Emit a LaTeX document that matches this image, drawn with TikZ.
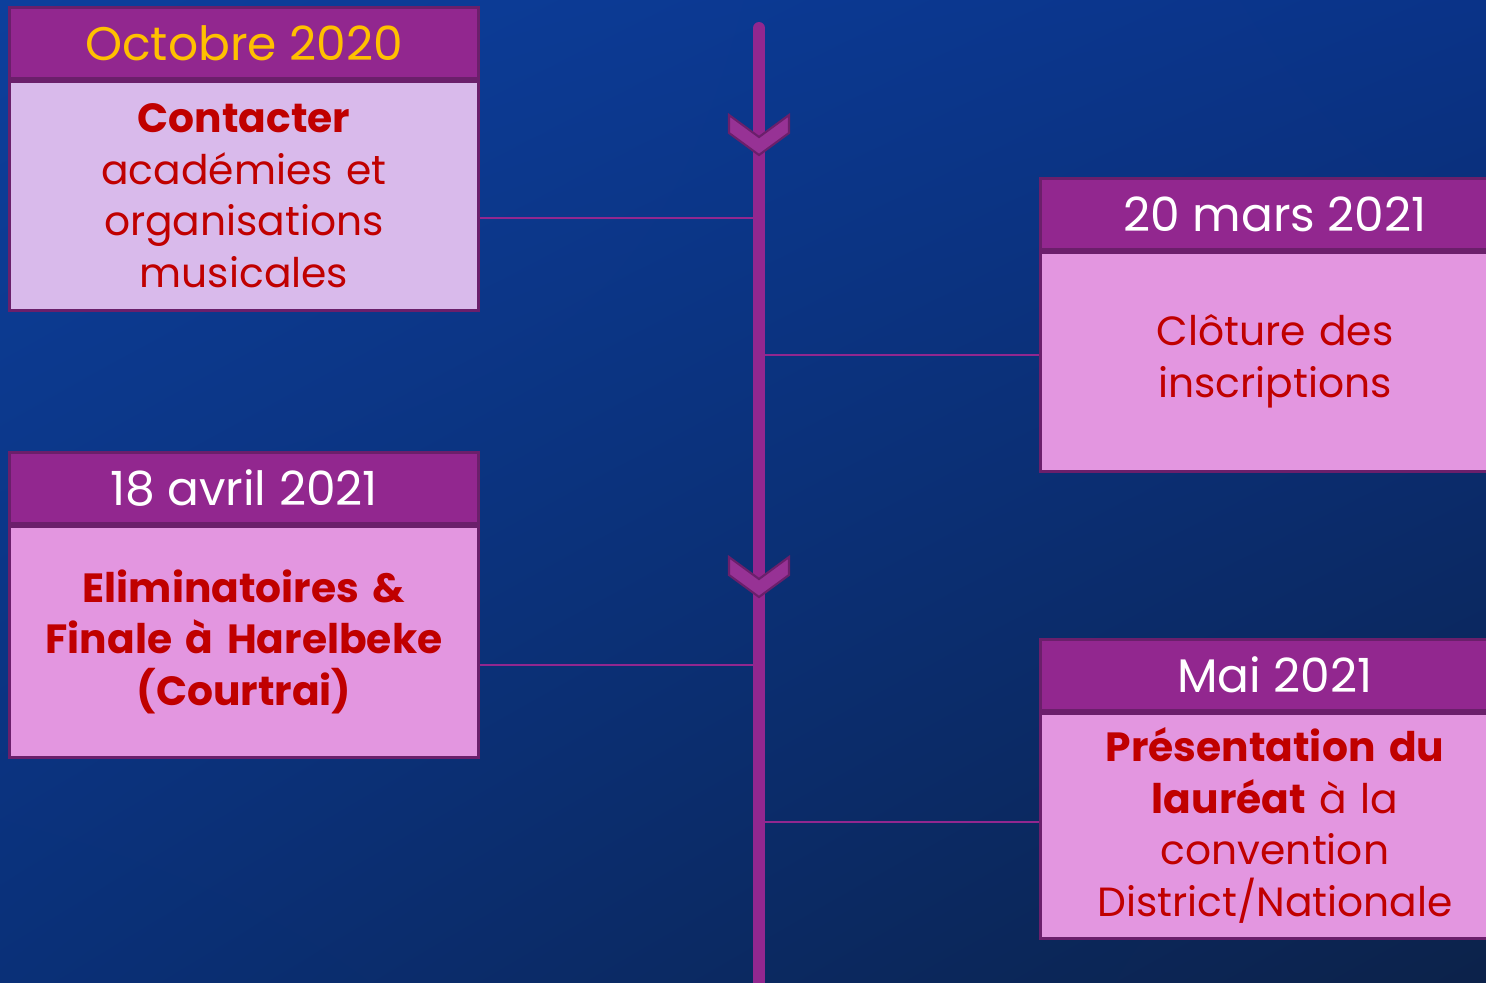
\documentclass[tikz,border=0pt]{standalone}
\usepackage{fontspec}
\setmainfont{Poppins}
\usetikzlibrary{positioning,calc,shadings}
\definecolor{bgtl}{HTML}{0D3F9C}
\definecolor{bgtr}{HTML}{0A3388}
\definecolor{bgbl}{HTML}{0A3078}
\definecolor{bgbr}{HTML}{0C224A}
\definecolor{plum}{HTML}{92278F}
\definecolor{plumdark}{HTML}{6B1F6B}
\definecolor{lilac}{HTML}{D9BAEB}
\definecolor{pinkbox}{HTML}{E396E0}
\definecolor{gold}{HTML}{FFC000}
\definecolor{txtred}{HTML}{C00000}
\tikzstyle{hdr} = [draw=plumdark, fill=plum, rectangle, line width=0.85pt,
    minimum width=4.68cm, minimum height=0.70cm, inner sep=0pt,
    text=white, font=\fontsize{13.4}{16}\selectfont]
\tikzstyle{body} = [draw=plumdark, fill=pinkbox, rectangle, line width=0.85pt,
    minimum width=4.68cm, inner sep=0pt, text width=4.5cm, align=center,
    text=txtred, font=\fontsize{11.6}{14.65}\selectfont]
\tikzstyle{link} = [draw=plum, line width=0.6pt]
\tikzstyle{chev} = [draw=plumdark, fill=plum!95!white, line width=0.6pt, line join=miter]

\begin{document}
\begin{tikzpicture}[x=0.01cm,y=-0.01cm]
    \clip (0,0) rectangle (1486,982);
    \shade[upper left=bgtl, upper right=bgtr, lower left=bgbl, lower right=bgbr]
      (0,0) rectangle (1486,982);

    \coordinate (tl_top) at (759,28);
    \coordinate (tl_bot) at (759,990);

    % headers
    \node (oct_hdr) [hdr,text=gold] at (244,43) {Octobre 2020};
    \node (mar_hdr) [hdr] at (1275,214) {20 mars 2021};
    \node (apr_hdr) [hdr] at (244,488) {18 avril 2021};
    \node (mai_hdr) [hdr] at (1275,675) {Mai 2021};

    % bodies
    \node (oct_body) [body,fill=lilac,minimum height=2.29cm,below=0pt of oct_hdr]
      {\textbf{Contacter}\\ académies et\\ organisations\\ musicales};
    \node (mar_body) [body,minimum height=2.19cm,below=0pt of mar_hdr]
      {Clôture des\\ inscriptions};
    \node (apr_body) [body,minimum height=2.31cm,below=0pt of apr_hdr]
      {\textbf{Eliminatoires \&\\ Finale à Harelbeke\\ (Courtrai)}};
    \node (mai_body) [body,minimum height=2.25cm,below=0pt of mai_hdr]
      {\textbf{Présentation du\\ lauréat} à la\\ convention\\ District/Nationale};

    % connectors
    \coordinate (oct_pt) at (759,218);
    \coordinate (mar_pt) at (759,355);
    \coordinate (apr_pt) at (759,665);
    \coordinate (mai_pt) at (759,822);
    \draw[link] (oct_pt -| oct_body.east) -- (oct_pt);
    \draw[link] (mar_pt) -- (mar_pt -| mar_body.west);
    \draw[link] (apr_pt -| apr_body.east) -- (apr_pt);
    \draw[link] (mai_pt) -- (mai_pt -| mai_body.west);

    % timeline
    \draw[plum, line width=3.4pt, line cap=round] (tl_top) -- (tl_bot);
    \foreach \y in {115,557}
      \draw[chev] (729,\y) -- ++(30,22) -- ++(30,-22) -- ++(0,18)
        -- ++(-30,22) -- ++(-30,-22) -- cycle;
\end{tikzpicture}
\end{document}
